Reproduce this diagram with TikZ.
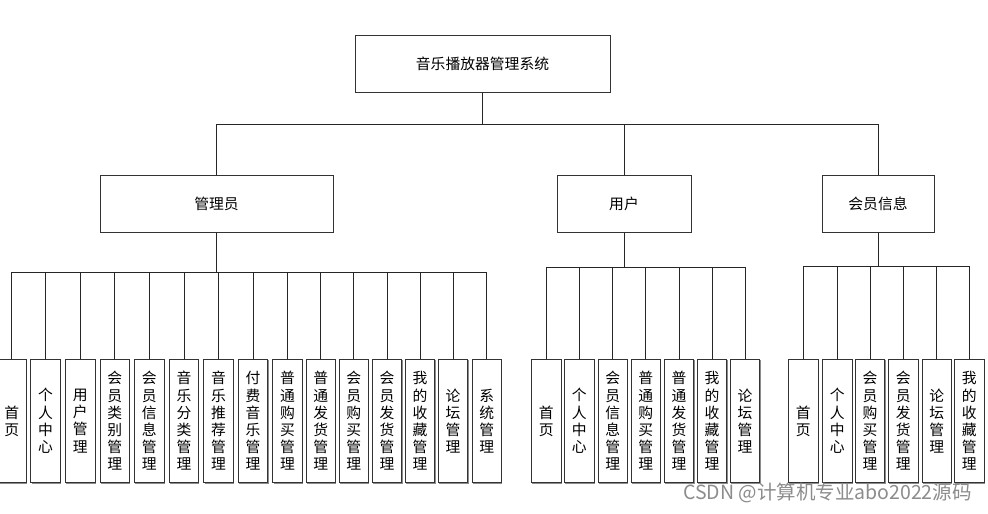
\documentclass[tikz,border=0pt]{standalone}
\usepackage{fontspec}
\setmainfont{Noto Sans CJK SC}
\usetikzlibrary{calc,shapes,shadows}

\tikzset{
	boite/.style={draw=black!80,line width=0.9pt,fill=white,inner sep=0pt,
		drop shadow={shadow xshift=0.8pt,shadow yshift=-0.8pt,fill=black!45,opacity=1},
		font=\fontsize{14.8}{17.2}\selectfont},
	feuille/.style={boite,minimum width=29.5,minimum height=123.5,align=center},
	trait/.style={draw=black!85,line width=0.8pt}
}

\begin{document}
\begin{tikzpicture}[x=1pt,y=-1pt]
				\useasboundingbox (0,0) rectangle (988,514);
				% Racine et niveau 2
				\node [boite,minimum width=255,minimum height=57.3] (sys) at (482.5,63.7) {音乐播放器管理系统};
				\node [boite,minimum width=233,minimum height=57.3] (adm) at (216.5,203.7) {管理员};
				\node [boite,minimum width=134,minimum height=57.3] (usr) at (624,203.7) {用户};
				\node [boite,minimum width=112,minimum height=57.3] (vip) at (878,203.7) {会员信息};
				\coordinate (b0) at (482.5,124.3);
				\draw [trait] (sys.south) -- (b0);
				\draw [trait] (adm.north) |- (b0);
				\draw [trait] (usr.north) |- (b0);
				\draw [trait] (vip.north) |- (b0);
				% Feuilles : administrateur
				\coordinate (b1) at (216.5,272.7);
				\draw [trait] (adm.south) -- (b1);
				\foreach \x/\t [count=\i] in {11.7/{首\\页},45.5/{个\\人\\中\\心},80.2/{用\\户\\管\\理},114.7/{会\\员\\类\\别\\管\\理},
						149.2/{会\\员\\信\\息\\管\\理},183.9/{音\\乐\\分\\类\\管\\理},218.5/{音\\乐\\推\\荐\\管\\理},253/{付\\费\\音\\乐\\管\\理},
						287.5/{普\\通\\购\\买\\管\\理},320.7/{普\\通\\发\\货\\管\\理},353.7/{会\\员\\购\\买\\管\\理},387/{会\\员\\发\\货\\管\\理},
						420/{我\\的\\收\\藏\\管\\理},453/{论\\坛\\管\\理},486.7/{系\\统\\管\\理}}
				{
					\node [feuille] (a\i) at (\x,421) {\t};
					\draw [trait] (a\i.north) |- (b1);
				}
				% Feuilles : utilisateur
				\coordinate (b2) at (624,267.3);
				\draw [trait] (usr.south) -- (b2);
				\foreach \x/\t [count=\i] in {546.2/{首\\页},579.3/{个\\人\\中\\心},612.7/{会\\员\\信\\息\\管\\理},645.7/{普\\通\\购\\买\\管\\理},
						679/{普\\通\\发\\货\\管\\理},712/{我\\的\\收\\藏\\管\\理},745/{论\\坛\\管\\理}}
				{
					\node [feuille] (u\i) at (\x,421) {\t};
					\draw [trait] (u\i.north) |- (b2);
				}
				% Feuilles : membre
				\coordinate (b3) at (878,266.7);
				\draw [trait] (vip.south) -- (b3);
				\foreach \x/\t [count=\i] in {803.3/{首\\页},837.3/{个\\人\\中\\心},870/{会\\员\\购\\买\\管\\理},903.3/{会\\员\\发\\货\\管\\理},
						936.7/{论\\坛\\管\\理},969.3/{我\\的\\收\\藏\\管\\理}}
				{
					\node [feuille] (v\i) at (\x,421) {\t};
					\draw [trait] (v\i.north) |- (b3);
				}
				% Filigrane
				\node [text=black!45,font=\fontsize{19.5}{19.5}\selectfont,inner sep=0pt] (wm) at (827.5,493) {CSDN @计算机专业abo2022源码};
\end{tikzpicture}
\end{document}
